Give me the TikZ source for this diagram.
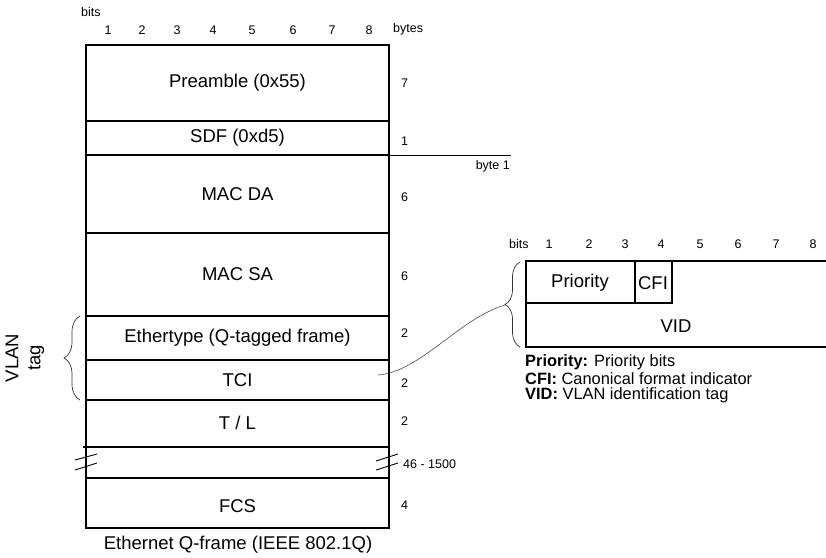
\documentclass[tikz,border=0pt]{standalone}
\usepackage{fontspec}
\setmainfont{Liberation Sans}
\usetikzlibrary{decorations.pathreplacing}
\begin{document}
\begin{tikzpicture}[x=1pt,y=-1pt,
  frame/.style={line width=2.6pt},
  thinframe/.style={line width=2pt},
  field/.style={font=\fontsize{18.5}{22}\selectfont, inner sep=0pt},
  small/.style={font=\fontsize{12.5}{14}\selectfont, inner sep=0pt},
  legend/.style={font=\fontsize{16.4}{17}\selectfont, inner sep=0pt, anchor=west},
  bracestyle/.style={decorate, line width=0.7pt, draw=black!80},
  breakmark/.style={line width=0.9pt},
]
\useasboundingbox (0,0) rectangle (826,557);
% ---------- main frame ----------
\draw[frame] (86,45) rectangle (389,528);
\foreach \yy in {121,155,233,316,360,400,478}{\draw[frame] (86,\yy) -- (389,\yy);}
\draw[frame] (83,447) -- (389,447);
% byte 1 line
\coordinate (b1a) at (389,155);
\coordinate (b1b) at (511,155);
\draw[line width=1pt] (b1a) -- (b1b);
\node[small, anchor=east] (byteone) at (510,166) {byte 1};
% break marks
\draw[breakmark] (75,460) -- (97,454);
\draw[breakmark] (75,470) -- (97,463);
\draw[breakmark] (376,461) -- (398,454);
\draw[breakmark] (376,470) -- (398,463);
% header
\node[small, anchor=west] (bitsA) at (81,12) {bits};
\foreach \n/\xx in {1/108,2/142,3/177,4/213,5/252,6/293,7/332,8/369}{\node[small] (ba\n) at (\xx,30) {\n};}
\node[small, anchor=west] (bytes) at (393,29) {bytes};
% field labels
\node[field] (pre) at (237.5,83) {Preamble (0x55)};
\node[field] (sdf) at (237.5,138) {SDF (0xd5)};
\node[field] (mda) at (237.5,194) {MAC DA};
\node[field] (msa) at (237.5,274) {MAC SA};
\node[field] (eth) at (237.5,338) {Ethertype (Q-tagged frame)};
\node[field] (tci) at (237.5,380) {TCI};
\node[field] (tl) at (237.5,423) {T / L};
\node[field] (fcs) at (237.5,506) {FCS};
% byte counts
\node[small, anchor=west] (c1) at (401,83) {7};
\node[small, anchor=west] (c2) at (401,141) {1};
\node[small, anchor=west] (c3) at (401,197) {6};
\node[small, anchor=west] (c4) at (401,276) {6};
\node[small, anchor=west] (c5) at (401,333) {2};
\node[small, anchor=west] (c6) at (401,383) {2};
\node[small, anchor=west] (c7) at (401,421) {2};
\node[small, anchor=west] (c8) at (403,464) {46 - 1500};
\node[small, anchor=west] (c9) at (401,505) {4};
% caption
\node[field] (cap) at (238,545) {Ethernet Q-frame (IEEE 802.1Q)};
% VLAN tag brace
\draw[bracestyle, decoration={brace, amplitude=16pt}] (80,400) -- (80,316);
\node[field, rotate=90, align=center] (vlan) at (25,358) {VLAN\\tag};
% ---------- TCI detail ----------
\draw[frame] (826,261) -- (526,261) -- (526,347) -- (826,347);
\draw[thinframe] (526,303) -- (672,303) -- (672,261);
\draw[thinframe] (635,261) -- (635,303);
\node[field] (prio) at (580,283) {Priority};
\node[field] (cfi) at (653,283) {CFI};
\node[field] (vid) at (676,326) {VID};
\node[small, anchor=west] (bitsB) at (509,244) {bits};
\foreach \n/\xx in {1/549,2/589,3/625,4/661,5/700,6/738,7/776,8/813}{\node[small] (bb\n) at (\xx,244) {\n};}
\draw[bracestyle, decoration={brace, amplitude=15pt}] (520,347) -- (520,262);
\coordinate (tip) at (505,305);
\coordinate (tcis) at (378,375);
\draw[line width=0.6pt, draw=black!70] (tcis) .. controls (420,372) and (460,318) .. (tip);
% legend
\node[legend] (l1) at (525,362) {\textbf{Priority:} Priority bits};
\node[legend] (l2) at (525,378.5) {\textbf{CFI:} Canonical format indicator};
\node[legend] (l3) at (525,395) {\textbf{VID:} VLAN identification tag};
\end{tikzpicture}
\end{document}
